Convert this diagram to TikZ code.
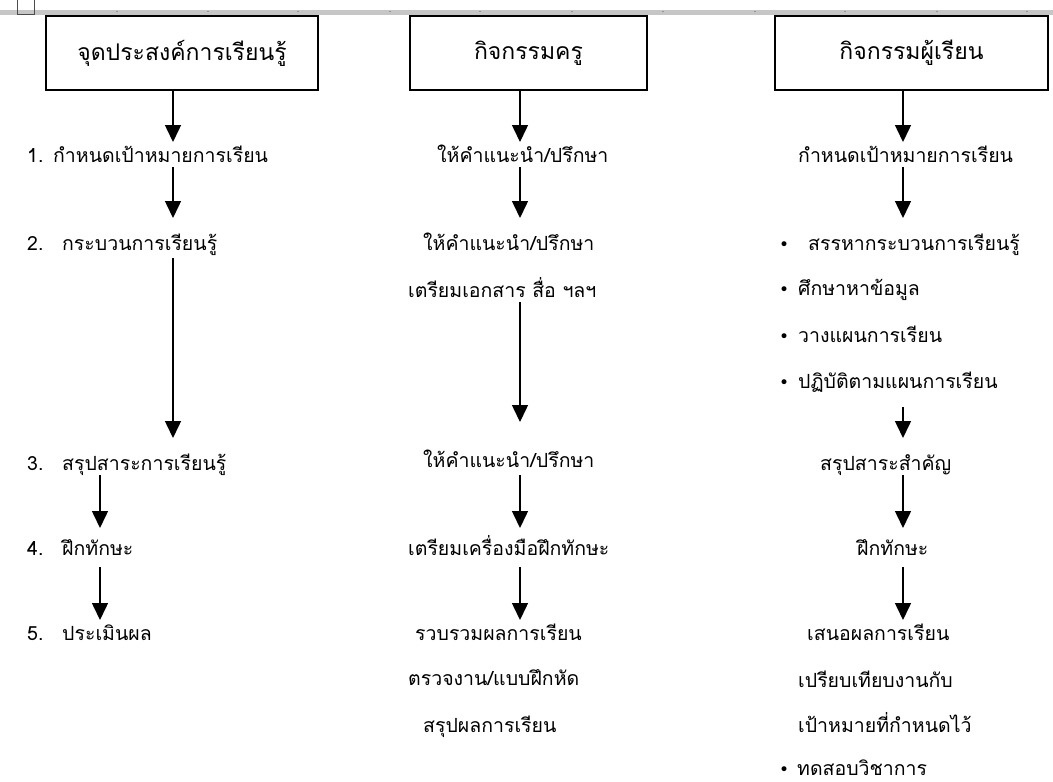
\documentclass[tikz,border=0pt]{standalone}
\usepackage{fontspec}
\newfontfamily\thai[Script=Thai]{Loma}
\newfontfamily\dejavu{DejaVu Sans}
\usetikzlibrary{arrows.meta}
\begin{document}
\begin{tikzpicture}[x=1pt,y=-1pt,
  hbox/.style={draw,line width=1.5pt,minimum height=74pt,inner sep=0pt,
    font=\thai\fontsize{23}{28}\selectfont},
  arr/.style={line width=1.5pt,-{Triangle[width=16pt,length=17pt]}},
  txt/.style={anchor=base west,inner sep=0pt,font=\thai\fontsize{19.5}{24}\selectfont},
  bul/.style={anchor=base west,inner sep=0pt,font=\dejavu\fontsize{17}{20}\selectfont}]
\useasboundingbox (0,0) rectangle (1053,782);
\fill[white] (0,0) rectangle (1053,782);
% top ruler bar
\fill[gray!45] (0,10) rectangle (1053,15);
\foreach \t in {117,208,298,390,480,572,663,755,845,937,1027}
  \fill[gray!80!black] (\t,11.5) circle (0.7pt);
\draw[line width=1pt,gray!60!black] (17,-2) rectangle (34,14);
% header boxes
\node[hbox,minimum width=272pt] (h1) at (182,53) {จุดประสงค์การเรียนรู้};
\node[hbox,minimum width=237pt] (h2) at (528.5,53) {กิจกรรมครู};
\node[hbox,minimum width=273pt] (h3) at (911.5,53) {กิจกรรมผู้เรียน};
% left column
\node[txt] (n1) at (27,162) {1.};
\node[txt] (l1) at (53,162) {กำหนดเป้าหมายการเรียน};
\node[txt] (n2) at (27,250) {2.};
\node[txt] (l2) at (62,250) {กระบวนการเรียนรู้};
\node[txt] (n3) at (27,470) {3.};
\node[txt] (l3) at (62,470) {สรุปสาระการเรียนรู้};
\node[txt] (n4) at (27,555) {4.};
\node[txt] (l4) at (62,555) {ฝึกทักษะ};
\node[txt] (n5) at (27,640) {5.};
\node[txt] (l5) at (62,640) {ประเมินผล};
% middle column
\node[txt] (m1) at (437,162) {ให้คำแนะนำ/ปรึกษา};
\node[txt] (m2) at (423,250) {ให้คำแนะนำ/ปรึกษา};
\node[txt] (m3) at (408,297) {เตรียมเอกสาร สื่อ ฯลฯ};
\node[txt] (m4) at (423,467) {ให้คำแนะนำ/ปรึกษา};
\node[txt] (m5) at (408,555) {เตรียมเครื่องมือฝึกทักษะ};
\node[txt] (m6) at (415,640) {รวบรวมผลการเรียน};
\node[txt] (m7) at (408,685) {ตรวจงาน/แบบฝึกหัด};
\node[txt] (m8) at (423,732) {สรุปผลการเรียน};
% right column
\node[txt] (r1) at (798,162) {กำหนดเป้าหมายการเรียน};
\node[bul] (b2) at (779,250) {•};
\node[txt] (r2) at (808,250) {สรรหากระบวนการเรียนรู้};
\node[bul] (b3) at (779,295) {•};
\node[txt] (r3) at (798,295) {ศึกษาหาข้อมูล};
\node[bul] (b4) at (779,342) {•};
\node[txt] (r4) at (798,342) {วางแผนการเรียน};
\node[bul] (b5) at (779,388) {•};
\node[txt] (r5) at (798,388) {ปฏิบัติตามแผนการเรียน};
\node[txt] (r6) at (820,470) {สรุปสาระสำคัญ};
\node[txt] (r7) at (857,555) {ฝึกทักษะ};
\node[txt] (r8) at (807,640) {เสนอผลการเรียน};
\node[txt] (r9) at (798,687) {เปรียบเทียบงานกับ};
\node[txt] (r10) at (798,732) {เป้าหมายที่กำหนดไว้};
\node[bul] (b11) at (779,775) {•};
\node[txt] (r11) at (797,775) {ทดสอบวิชาการ};
% arrow end points
\coordinate (a1e) at (173,142);
\coordinate (a2s) at (173,167); \coordinate (a2e) at (173,218);
\coordinate (a3s) at (173,258); \coordinate (a3e) at (173,438);
\coordinate (a4s) at (100,475); \coordinate (a4e) at (100,528);
\coordinate (a5s) at (100,567); \coordinate (a5e) at (100,620);
\coordinate (b1e) at (520,142);
\coordinate (b2s) at (520,167); \coordinate (b2e) at (520,218);
\coordinate (b3s) at (520,302); \coordinate (b3e) at (520,422);
\coordinate (b4s) at (520,475); \coordinate (b4e) at (520,528);
\coordinate (b5s) at (520,567); \coordinate (b5e) at (520,620);
\coordinate (c1e) at (903,142);
\coordinate (c2s) at (903,167); \coordinate (c2e) at (903,218);
\coordinate (c3s) at (903,407); \coordinate (c3e) at (903,438);
\coordinate (c4s) at (903,475); \coordinate (c4e) at (903,528);
\coordinate (c5s) at (903,567); \coordinate (c5e) at (903,620);
% arrows
\draw[arr] (h1.south -| a1e) -- (a1e);
\draw[arr] (a2s) -- (a2e);
\draw[arr] (a3s) -- (a3e);
\draw[arr] (a4s) -- (a4e);
\draw[arr] (a5s) -- (a5e);
\draw[arr] (h2.south -| b1e) -- (b1e);
\draw[arr] (b2s) -- (b2e);
\draw[arr] (b3s) -- (b3e);
\draw[arr] (b4s) -- (b4e);
\draw[arr] (b5s) -- (b5e);
\draw[arr] (h3.south -| c1e) -- (c1e);
\draw[arr] (c2s) -- (c2e);
\draw[arr] (c3s) -- (c3e);
\draw[arr] (c4s) -- (c4e);
\draw[arr] (c5s) -- (c5e);
\end{tikzpicture}
\end{document}
